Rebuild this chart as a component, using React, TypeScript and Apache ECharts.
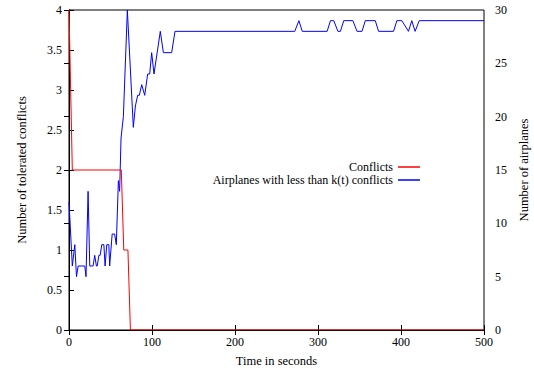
import React, { useEffect, useRef } from "react";
import * as echarts from "echarts";

const xTicks = [0, 100, 200, 300, 400, 500];
const leftTicks = [0, 0.5, 1, 1.5, 2, 2.5, 3, 3.5, 4];
const rightTicks = [0, 5, 10, 15, 20, 25, 30];

const conflictsT = [0, 4, 63, 66, 71, 74, 500];
const conflictsV = [4, 2, 2, 1, 1, 0, 0];

const planesT = [
  0, 4, 7, 9, 11, 19, 20.5, 23, 25, 29, 31, 33, 34, 36, 37.5, 39.5, 42, 43.5, 45.5, 48, 49, 52, 55, 57,
  59.5, 61, 62.7, 65.5, 70.3, 77.5, 80, 82.7, 84.7, 87.6, 91.2, 94.8, 97.2, 99.6, 102.4, 110, 113.7,
  123.7, 127.7, 272, 277, 281, 311, 315, 319, 324, 327, 331, 342, 347, 353, 357, 369, 373, 391, 395,
  401, 409, 413, 417, 422, 500,
];
const planesV = [
  12, 6, 8, 5, 6, 6, 5, 13, 6, 6, 7, 6, 6, 7, 7, 8, 8, 6, 8, 8, 6, 9, 9, 8,
  14, 13, 18, 20, 30, 19, 21, 22, 22, 23, 22, 24, 24, 26, 24, 28, 26,
  26, 28, 28, 29, 28, 28, 29, 29, 28, 28, 29, 29, 28, 28, 29, 29, 28, 28, 29,
  29, 28, 29, 28, 29, 29,
];

const FONT = "Liberation Serif";

export default function App() {
  const ref = useRef<HTMLDivElement>(null);
  useEffect(() => {
    document.body.style.margin = "0";
    if (!ref.current) return;
    const chart = echarts.init(ref.current, null, { renderer: "svg" });
    const nameTs = { fontFamily: FONT, fontSize: 12.5, color: "#000" };
    const rich = { s: { fontFamily: FONT, fontSize: 12, color: "#000" } };
    const fmt = (v: number) => `{s|${v}}`;
    chart.setOption({
      animation: false,
      textStyle: { fontFamily: FONT, color: "#000" },
      grid: {
        left: 69,
        right: 50,
        top: 10,
        bottom: 39,
        outerBoundsMode: "none",
        containLabel: false,
        show: true,
        borderColor: "#000",
        borderWidth: 1,
      },
      legend: {
        orient: "vertical",
        align: "right",
        right: 114,
        top: 161,
        padding: 0,
        itemGap: 1,
        itemWidth: 22,
        itemHeight: 1.5,
        icon: "rect",
        textStyle: { fontFamily: FONT, fontSize: 12, color: "#000" },
        data: ["Conflicts", "Airplanes with less than k(t) conflicts"],
      },
      xAxis: [
        {
          type: "value",
          min: 0,
          max: 500,
          interval: 100,
          name: "{n|Time in seconds}",
          nameLocation: "middle",
          nameGap: 24,
          nameTextStyle: { ...nameTs, rich: { n: nameTs } },
          axisLine: { show: true, lineStyle: { color: "#000" } },
          axisTick: { inside: true, length: 5, lineStyle: { color: "#000" } },
          axisLabel: { fontFamily: FONT, fontSize: 12, color: "#000", margin: 6, customValues: xTicks, formatter: fmt, rich },
          splitLine: { show: false },
        },
        {
          type: "value",
          position: "top",
          min: 0,
          max: 500,
          interval: 100,
          axisLine: { show: true, lineStyle: { color: "#000" } },
          axisTick: { inside: true, length: 5, lineStyle: { color: "#000" } },
          axisLabel: { show: false },
          splitLine: { show: false },
        },
      ],
      yAxis: [
        {
          type: "value",
          min: 0,
          max: 4,
          interval: 0.5,
          name: "{n|Number of tolerated conflicts}",
          nameLocation: "middle",
          nameGap: 41,
          nameTextStyle: { ...nameTs, rich: { n: nameTs } },
          axisLine: { show: true, lineStyle: { color: "#000" } },
          axisTick: { inside: true, length: 5, lineStyle: { color: "#000" } },
          axisLabel: { fontFamily: FONT, fontSize: 12, color: "#000", margin: 7, customValues: leftTicks, formatter: fmt, rich },
          splitLine: { show: false },
        },
        {
          type: "value",
          position: "right",
          min: 0,
          max: 30,
          interval: 5,
          name: "{n|Number of airplanes}",
          nameLocation: "middle",
          nameGap: 33,
          nameTextStyle: { ...nameTs, rich: { n: nameTs } },
          axisLine: { show: true, lineStyle: { color: "#000" } },
          axisTick: { inside: true, length: 5, lineStyle: { color: "#000" } },
          axisLabel: { fontFamily: FONT, fontSize: 12, color: "#000", margin: 11, customValues: rightTicks, formatter: fmt, rich },
          splitLine: { show: false },
        },
      ],
      series: [
        {
          name: "Conflicts",
          type: "line",
          xAxisIndex: 0,
          yAxisIndex: 0,
          symbol: "none",
          color: "#ff0000",
          lineStyle: { width: 1, color: "#ff0000" },
          data: conflictsT.map((t, i) => [t, conflictsV[i]]),
          z: 3,
        },
        {
          name: "Airplanes with less than k(t) conflicts",
          type: "line",
          xAxisIndex: 0,
          yAxisIndex: 1,
          symbol: "none",
          color: "#0000ff",
          lineStyle: { width: 1, color: "#0000ff" },
          data: planesT.map((t, i) => [t, planesV[i]]),
          z: 2,
        },
      ],
    });
    return () => chart.dispose();
  }, []);
  return <div ref={ref} style={{ width: 534, height: 369 }} />;
}
